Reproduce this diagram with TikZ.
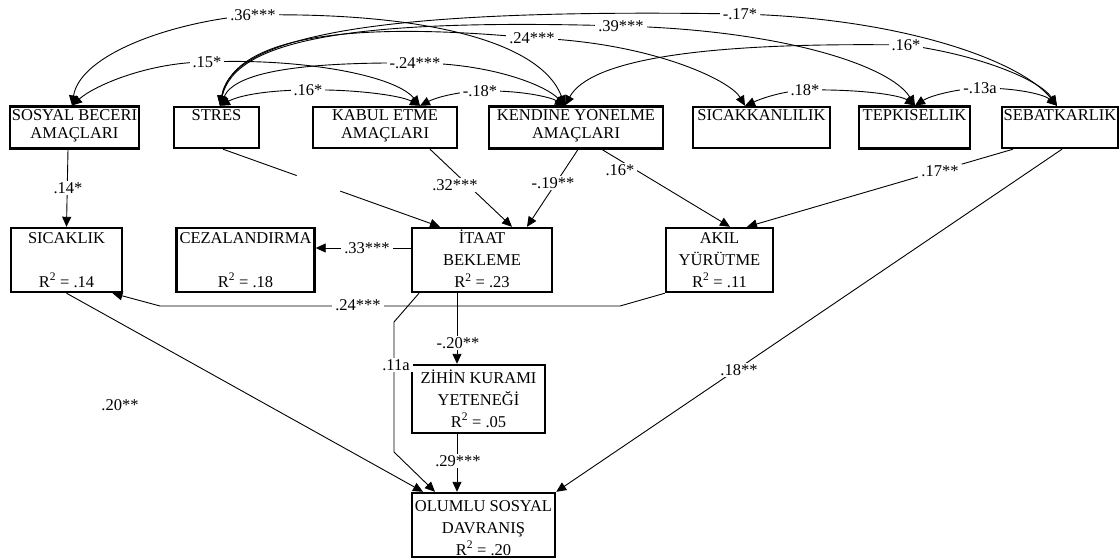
\documentclass[tikz,border=0pt]{standalone}
\usepackage{fontspec}
\setmainfont{Liberation Serif}
\usetikzlibrary{arrows.meta}
\pgfdeclarelayer{lines}
\pgfsetlayers{lines,main}
\newcommand\tS{\rule{0pt}{13pt}}
\newcommand\dS[1]{\rule[-#1]{0pt}{0pt}}
\newcommand\Rsq[1]{R\textsuperscript{2} = #1}
\begin{document}
\begin{tikzpicture}[x=1pt,y=-1pt,
  every node/.style={font=\fontsize{16.5}{18}\selectfont},
  box/.style={draw,line width=2.4pt,inner sep=0pt,align=center},
  lbl/.style={fill=white,inner xsep=3pt,inner ysep=1pt},
  arr/.style={-{Triangle[length=10pt,width=9pt]}},
  conn/.style={line width=0.9pt,arr},
  corr/.style={line width=0.9pt,{Triangle[length=10pt,width=9pt]}-{Triangle[length=10pt,width=9pt]}},
  gapnode/.style={sloped,fill=white,minimum width=46pt,minimum height=6pt,inner sep=0pt}]
\useasboundingbox (0,0) rectangle (1120,560);

% row 1
\node[box,minimum width=129pt,minimum height=41pt] (sosyal) at (74.5,127.5) {\tS SOSYAL BECERİ\\AMAÇLARI\dS{10pt}};
\node[box,minimum width=85pt,minimum height=41pt] (stres) at (216.5,127.5) {\tS STRES\\\dS{10pt}};
\node[box,minimum width=144pt,minimum height=41pt] (kabul) at (385,127.5) {\tS KABUL ETME\\AMAÇLARI\dS{10pt}};
\node[box,minimum width=174pt,minimum height=41pt] (kendine) at (576,127.5) {\tS KENDİNE YÖNELME\\AMAÇLARI\dS{10pt}};
\node[box,minimum width=137pt,minimum height=41pt] (sicakkan) at (761.5,127.5) {\tS SICAKKANLILIK\\\dS{10pt}};
\node[box,minimum width=111pt,minimum height=41pt] (tepki) at (914.5,127.5) {\tS TEPKİSELLİK\\\dS{10pt}};
\node[box,minimum width=116pt,minimum height=41pt] (sebat) at (1060,127.5) {\tS SEBATKARLIK\\\dS{10pt}};

% row 2
\node[box,minimum width=111pt,minimum height=64pt] (sicaklik) at (66.5,260) {\tS SICAKLIK\\[4pt]\mbox{}\\[4pt]\Rsq{.14}\dS{3pt}};
\node[box,minimum width=138pt,minimum height=64pt] (ceza) at (245.5,260) {\tS CEZALANDIRMA\\[4pt]\mbox{}\\[4pt]\Rsq{.18}\dS{3pt}};
\node[box,minimum width=140pt,minimum height=64pt] (itaat) at (482,260) {\tS İTAAT\\[4pt]BEKLEME\\[4pt]\Rsq{.23}\dS{3pt}};
\node[box,minimum width=107pt,minimum height=64pt] (akil) at (719.5,260) {\tS AKIL\\[4pt]YÜRÜTME\\[4pt]\Rsq{.11}\dS{3pt}};

% row 3
\node[box,minimum width=133pt,minimum height=68pt] (zihin) at (478.5,399) {\rule{0pt}{15pt}ZİHİN KURAMI\\[4pt]YETENEĞİ\\[4pt]\Rsq{.05}\dS{3pt}};
\node[box,minimum width=143pt,minimum height=64pt] (olumlu) at (483.5,525) {\rule{0pt}{17pt}OLUMLU SOSYAL\\[4pt]DAVRANIŞ\\[4pt]\Rsq{.20}\dS{1pt}};

% labels
\node[lbl] (l14) at (68,188) {.14*};
\node[lbl] (l32) at (455,185) {.32***};
\node[lbl] (l19) at (553,183) {-.19**};
\node[lbl] (l16b) at (620,170) {.16*};
\node[lbl] (l17b) at (940,171) {.17**};
\node[lbl] (l33) at (367,248) {.33***};
\node[lbl] (l24b) at (358,305) {.24***};
\node[lbl] (l20a) at (458,343) {-.20**};
\node[lbl] (l11) at (396,365) {.11a};
\node[lbl] (l20b) at (120,405) {.20**};
\node[lbl] (l18b) at (739,370) {.18**};
\node[lbl] (l29) at (458,461) {.29***};
\node[lbl] (l36) at (253,15) {.36***};
\node[lbl] (l15) at (207,62) {.15*};
\node[lbl] (l16a) at (308,90) {.16*};
\node[lbl] (l24a) at (415,63) {-.24***};
\node[lbl] (l24c) at (532,38) {.24***};
\node[lbl] (l18a) at (480,91) {-.18*};
\node[lbl] (l39) at (621,26) {.39***};
\node[lbl] (l17a) at (740,14) {-.17*};
\node[lbl] (l16c) at (906,45) {.16*};
\node[lbl] (l18c) at (805,90) {.18*};
\node[lbl] (l13) at (980,88) {-.13a};

\coordinate (k1) at (620,306);
\coordinate (k2) at (160,306);
\coordinate (b1) at (394,322);
\coordinate (b2) at (394,452);

\begin{pgfonlayer}{lines}
% straight paths
\draw[conn] ([xshift=1.5pt]sosyal.south -| sicaklik.north) -- (sicaklik.north);
\draw[conn] ([xshift=6.5pt]stres.south) -- node[pos=0.44,gapnode]{} ([xshift=-42pt]itaat.north);
\draw[conn] ([xshift=45pt]kabul.south) -- ([xshift=30pt]itaat.north);
\draw[conn] ([xshift=2pt]kendine.south) -- ([xshift=45pt]itaat.north);
\draw[conn] ([xshift=26pt]kendine.south) -- ([xshift=10.5pt]akil.north);
\draw[conn] ([xshift=-47pt]sebat.south) -- ([xshift=27.5pt]akil.north);
\draw[conn] ([xshift=2pt]sebat.south) -- (olumlu.north east);
\draw[conn] ([yshift=12pt]itaat.west) -- ([yshift=12pt]ceza.east);
\draw[conn] (akil.south west) -- (k1) -- (k2) -- ([xshift=46pt]sicaklik.south);
\draw[conn] ([xshift=-25pt]itaat.south) -- ([xshift=-21.5pt]zihin.north);
\draw[conn] ([xshift=-63pt]itaat.south) -- (b1) -- (b2) -- ([xshift=-48.5pt]olumlu.north);
\draw[conn] (sicaklik.south) -- ([xshift=-60.5pt]olumlu.north);
\draw[conn] ([xshift=-21.5pt]zihin.south) -- ([xshift=-26.5pt]olumlu.north);

% correlations
\draw[corr] ([xshift=-2.5pt]sosyal.north) .. controls (80,55) and (170,22) .. (l36.center) .. controls (420,12) and (540,40) .. ([xshift=-11pt]kendine.north);
\draw[corr] ([xshift=-2.5pt]sosyal.north) .. controls (95,85) and (150,62) .. (l15.center) .. controls (300,58) and (395,75) .. ([xshift=35pt]kabul.north);
\draw[corr] ([xshift=3.5pt]stres.north) .. controls (240,95) and (270,90) .. (l16a.center) .. controls (350,89) and (400,95) .. ([xshift=35pt]kabul.north);
\draw[corr] ([xshift=3.5pt]stres.north) .. controls (235,72) and (300,62) .. (l24a.center) .. controls (490,63) and (545,85) .. ([xshift=-11pt]kendine.north);
\draw[corr] ([xshift=3.5pt]stres.north) .. controls (232,45) and (320,18) .. (l24c.center) .. controls (650,42) and (730,80) .. ([xshift=-16.5pt]sicakkan.north);
\draw[corr] ([xshift=3.5pt]stres.north) .. controls (235,40) and (350,18) .. (l39.center) .. controls (780,30) and (890,65) .. ([xshift=0.5pt]tepki.north);
\draw[corr] ([xshift=3.5pt]stres.north) .. controls (232,35) and (380,8) .. (l17a.center) .. controls (900,18) and (1020,60) .. ([xshift=-3pt]sebat.north);
\draw[corr] ([xshift=35pt]kabul.north) .. controls (435,98) and (455,92) .. (l18a.center) .. controls (520,90) and (550,97) .. ([xshift=-11pt]kendine.north);
\draw[corr] ([xshift=-11pt]kendine.north) .. controls (590,60) and (700,42) .. (l16c.center) .. controls (980,55) and (1040,80) .. ([xshift=-3pt]sebat.north);
\draw[corr] ([xshift=-16.5pt]sicakkan.north) .. controls (765,97) and (785,91) .. (l18c.center) .. controls (860,89) and (900,95) .. ([xshift=0.5pt]tepki.north);
\draw[corr] ([xshift=0.5pt]tepki.north) .. controls (930,96) and (955,89) .. (l13.center) .. controls (1020,88) and (1045,95) .. ([xshift=-3pt]sebat.north);
\end{pgfonlayer}
\end{tikzpicture}
\end{document}
